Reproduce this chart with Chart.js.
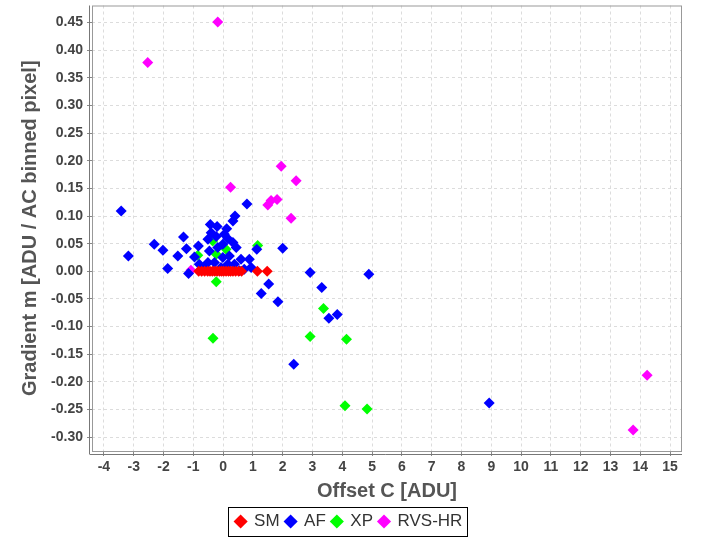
<!DOCTYPE html>
<html>
<head>
<meta charset="utf-8">
<script src="https://cdn.jsdelivr.net/npm/chart.js@4/dist/chart.umd.min.js"></script>
<style>
  html, body { margin: 0; padding: 0; background: #fff; }
  #wrap { width: 705px; height: 540px; }
</style>
</head>
<body>
<div id="wrap"><canvas id="chart" width="705" height="540"></canvas></div>
<script>
// Données (x = offset C, y = gradient m)
const seriesNames = ['SM', 'AF', 'XP', 'RVS-HR'];
const seriesColors = ['#ff0000', '#0000ff', '#00ff00', '#ff00ff'];

const smX = [-0.82, -0.72, -0.62, -0.52, -0.44, -0.36, -0.28, -0.2, -0.12, -0.05, 0.02, 0.1, 0.18, 0.25, 0.33, 0.42, 0.52, 0.62, 1.15, 1.48];
const smY = [0, 0, 0, 0, 0, 0, 0, 0, 0, 0, 0, 0, 0, 0, 0, 0, 0, 0, 0, 0];

const afX = [-3.42, -3.18, -2.31, -2.02, -1.86, -1.52, -1.33, -1.23, -1.16, -0.96, -0.83, -0.8, -0.63, -0.51, -0.51, -0.46, -0.43, -0.4, -0.29, -0.23, -0.2, -0.18, -0.07, -0.01, -0.01, 0.04, 0.12, 0.16, 0.16, 0.21, 0.33, 0.33, 0.38, 0.4, 0.44, 0.55, 0.6, 0.71, 0.8, 0.88, 0.94, 1.13, 1.28, 1.53, 1.84, 2.0, 2.37, 2.92, 3.31, 3.55, 3.83, 4.89, 8.93];
const afY = [0.109, 0.028, 0.049, 0.038, 0.005, 0.028, 0.062, 0.041, -0.004, 0.026, 0.046, 0.013, 0.007, 0.058, 0.016, 0.037, 0.085, 0.07, 0.016, 0.063, 0.081, 0.043, 0.007, 0.049, 0.025, 0.067, 0.077, 0.059, 0.013, 0.028, 0.091, 0.052, 0.013, 0.1, 0.043, 0.001, 0.022, 0.004, 0.122, 0.022, 0.007, 0.04, -0.04, -0.023, -0.055, 0.042, -0.168, -0.002, -0.029, -0.085, -0.078, -0.005, -0.238];

const xpX = [-0.85, -0.35, -0.23, -0.23, 0.1, -0.34, 1.16, 2.92, 3.37, 4.14, 4.09, 4.83];
const xpY = [0.029, 0.055, 0.031, -0.019, 0.04, -0.121, 0.047, -0.118, -0.067, -0.123, -0.243, -0.249];

const rvsX = [-2.53, -0.18, -1.08, 0.25, 1.5, 1.61, 1.81, 1.95, 2.28, 2.45, 13.76, 14.23];
const rvsY = [0.378, 0.451, 0.002, 0.152, 0.12, 0.128, 0.13, 0.19, 0.096, 0.164, -0.287, -0.188];

const xTicks = { min: -4.4, max: 15.4, step: 1 };
const yTicks = { min: -0.325, max: 0.481, step: 0.05 };

function toPoints(xs, ys) {
    return xs.map((x, i) => ({ x: x, y: ys[i] }));
}

const allX = [smX, afX, xpX, rvsX];
const allY = [smY, afY, xpY, rvsY];

const datasets = seriesNames.map((name, i) => ({
    label: name,
    data: toPoints(allX[i], allY[i]),
    backgroundColor: seriesColors[i],
    borderColor: seriesColors[i],
    borderWidth: 0,
    pointStyle: 'rectRot',
    pointRadius: 5.5,
    pointHoverRadius: 5.5
}));

const legendShift = 8;

// cadre du graphe + boîte de la légende
const framePlugin = {
    id: 'frame',
    beforeDraw(chart) {
        const lg = chart.legend;
        if (lg && !lg._shifted) {
            lg.left += legendShift;
            lg.right += legendShift;
            lg.legendHitBoxes.forEach(h => { h.left += legendShift; });
            lg._shifted = true;
        }
    },
    beforeDatasetsDraw(chart) {
        const ctx = chart.ctx;
        const a = chart.chartArea;
        ctx.save();
        ctx.strokeStyle = '#999';
        ctx.lineWidth = 1;
        ctx.strokeRect(a.left + 0.5, a.top + 0.5, a.right - a.left - 1, a.bottom - a.top);
        ctx.strokeStyle = '#777';
        ctx.beginPath();
        ctx.moveTo(a.left - 2.5, a.top);
        ctx.lineTo(a.left - 2.5, a.bottom + 3);
        ctx.moveTo(a.left - 2.5, a.bottom + 3.5);
        ctx.lineTo(a.right, a.bottom + 3.5);
        ctx.stroke();
        ctx.restore();
    },
    afterDraw(chart) {
        const boxes = chart.legend.legendHitBoxes;
        if (!boxes || !boxes.length) return;
        const ctx = chart.ctx;
        let l = Infinity, r = -Infinity, t = Infinity, b = -Infinity;
        boxes.forEach(h => {
            l = Math.min(l, h.left); r = Math.max(r, h.left + h.width);
            t = Math.min(t, h.top); b = Math.max(b, h.top + h.height);
        });
        ctx.save();
        ctx.strokeStyle = '#000';
        ctx.lineWidth = 1;
        ctx.strokeRect(Math.round(l) - 7.5, Math.round(t) - 5.5, Math.round(r - l) + 12, Math.round(b - t) + 12);
        ctx.restore();
    }
};

const tickFont = { family: 'Liberation Sans', size: 14, weight: 'bold' };
const titleFont = { family: 'Liberation Sans', size: 20, weight: 'bold' };

new Chart(document.getElementById('chart'), {
    type: 'scatter',
    data: { datasets: datasets },
    options: {
        responsive: false,
        animation: false,
        layout: { padding: { left: 0, right: 23, top: 3, bottom: 0 } },
        plugins: {
            legend: {
                position: 'bottom',
                labels: {
                    usePointStyle: true,
                    pointStyle: 'rectRot',
                    boxWidth: 10,
                    boxHeight: 10,
                    padding: 6,
                    color: '#333',
                    font: { family: 'Liberation Sans', size: 17 }
                }
            },
            tooltip: { enabled: false }
        },
        scales: {
            x: {
                type: 'linear',
                min: xTicks.min,
                max: xTicks.max,
                afterFit(scale) { scale.height = 56; },
                ticks: {
                    stepSize: xTicks.step,
                    includeBounds: false,
                    maxRotation: 0,
                    autoSkip: false,
                    padding: 3,
                    color: '#444',
                    font: tickFont
                },
                grid: { color: '#dcdcdc', tickColor: '#888', tickLength: 5 },
                border: { display: false, dash: [3, 3] },
                title: {
                    display: true,
                    text: 'Offset C [ADU]',
                    color: '#555',
                    font: titleFont,
                    padding: { top: 2, bottom: 4 }
                }
            },
            y: {
                type: 'linear',
                min: yTicks.min,
                max: yTicks.max,
                afterFit(scale) {
                    scale.width = 92;
                    scale.paddingTop = 0;
                    scale.paddingBottom = 0;
                },
                ticks: {
                    stepSize: yTicks.step,
                    includeBounds: false,
                    autoSkip: false,
                    padding: 4,
                    color: '#444',
                    font: tickFont,
                    callback: v => v.toFixed(2)
                },
                grid: { color: '#dcdcdc', tickColor: '#888', tickLength: 5 },
                border: { display: false, dash: [3, 3] },
                title: {
                    display: true,
                    text: 'Gradient m [ADU / AC binned pixel]',
                    color: '#555',
                    font: titleFont,
                    padding: { top: 18, bottom: 6 }
                }
            }
        }
    },
    plugins: [framePlugin]
});
</script>
</body>
</html>
